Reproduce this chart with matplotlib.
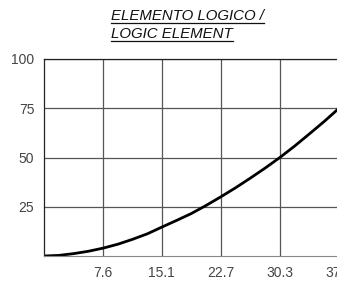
import numpy as np
import matplotlib
matplotlib.use('Agg')
import matplotlib.pyplot as plt
from matplotlib.lines import Line2D

plt.rcParams['font.family'] = ['Liberation Sans', 'DejaVu Sans']

# values
x_vals = [0, 1.9, 3.8, 5.7, 7.6, 9.5, 11.4, 13.3, 15.1, 17.0, 18.9, 20.8,
          22.7, 24.6, 26.5, 28.4, 30.3, 32.2, 34.1, 36.0, 37.9]
y_vals = [0, 0.3, 1.2, 2.4, 4.0, 6.0, 8.5, 11.3, 14.6, 18.0, 21.5, 25.6,
          30.0, 34.6, 39.5, 44.6, 50.0, 55.8, 62.0, 68.3, 75.0]
x_ticks = [7.6, 15.1, 22.7, 30.3, 37.9]
y_ticks = [25, 50, 75, 100]
title_lines = ['ELEMENTO LOGICO /', 'LOGIC ELEMENT']

W, H = 337, 305
fig = plt.figure(figsize=(W / 100, H / 100), dpi=100)
ax = fig.add_axes([44 / W, 49 / H, 295 / W, 197 / H])

ax.plot(x_vals, y_vals, color='black', lw=2.0, solid_capstyle='round')

ax.set_xlim(0, 37.875)
ax.set_ylim(0, 100)
ax.set_xticks(x_ticks)
ax.set_xticklabels([str(v) for v in x_ticks])
ax.set_yticks(y_ticks)
ax.tick_params(length=0, labelsize=10, colors='#444444')
ax.tick_params(axis='x', pad=7)
ax.tick_params(axis='y', pad=7)
ax.grid(True, color='#555555', lw=0.9)
ax.set_axisbelow(True)
for s in ['left', 'top']:
    ax.spines[s].set_color('#222222')
    ax.spines[s].set_linewidth(0.9)
ax.spines['bottom'].set_color('#888888')
ax.spines['right'].set_visible(False)

# title with underline
ys = [16, 34]
texts = []
for t, yp in zip(title_lines, ys):
    txt = fig.text(111 / W, 1 - yp / H, t, fontsize=10.8, style='italic',
                   ha='left', va='center', color='#111111')
    texts.append(txt)
fig.canvas.draw()
r = fig.canvas.get_renderer()
for txt in texts:
    bb = txt.get_window_extent(r)
    yline = bb.y0 + 0.5
    fig.add_artist(Line2D([bb.x0 / W, bb.x1 / W], [yline / H, yline / H],
                          transform=fig.transFigure, color='#111111', lw=0.9))

fig.savefig('out.png', dpi=100)
